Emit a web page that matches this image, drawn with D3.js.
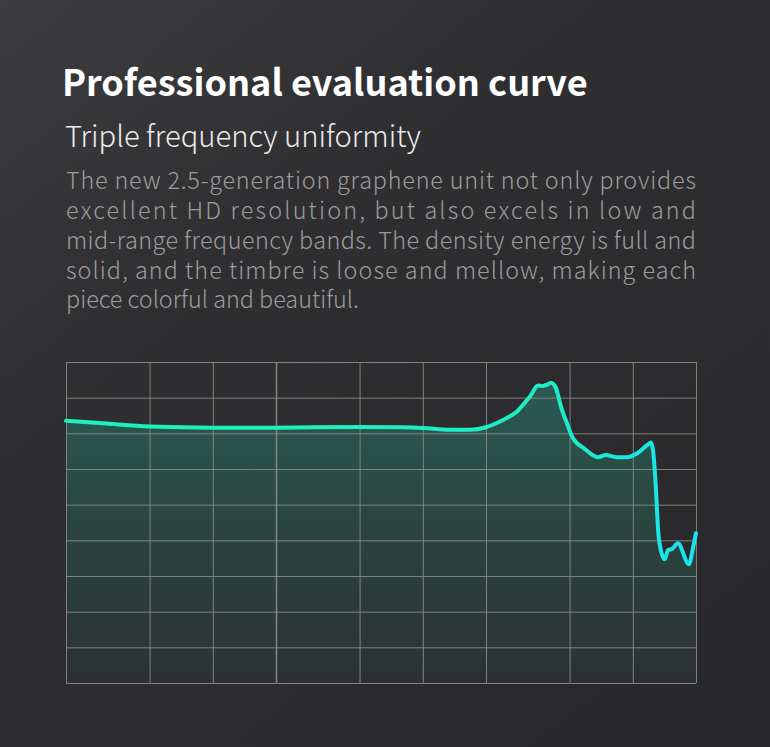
<!DOCTYPE html>
<html>
<head>
<meta charset="utf-8">
<script src="https://cdn.jsdelivr.net/npm/d3@7"></script>
<style>
  body { margin: 0; background: #2b2b2d; }
  svg { display: block; }
</style>
</head>
<body>
<svg id="chart" width="770" height="747"></svg>
<script>
// frequency response (Hz, dB)
const freqs = [20, 30, 50, 100, 200, 500, 780, 1000, 1350, 1680, 2000, 2330, 2600, 2810, 3020, 3240, 3540, 3740, 3900, 4080, 4310, 4550, 4860, 5190, 5860, 6820, 7450, 8400, 9380, 10500, 11700, 12200, 12480, 12900, 13200, 13600, 14200, 14720, 15400, 16400, 18500, 19400, 20000];
const spl = [103.5, 102.8, 101.9, 101.6, 101.6, 101.8, 101.7, 101.5, 101.0, 101.0, 101.7, 103.3, 104.8, 106.1, 108.2, 110.3, 113.4, 113.3, 113.6, 114.2, 112.6, 107.5, 102.8, 98.6, 95.8, 93.3, 93.9, 93.3, 93.3, 94.4, 96.7, 97.4, 95.3, 84.1, 72.9, 67.3, 64.7, 67.3, 67.6, 69.2, 63.3, 68.2, 72.0];

const gridFreqs = [20, 50, 100, 200, 500, 1000, 2000, 5000, 10000, 20000];
const gridLevels = d3.range(30, 121, 10);

const titleText = 'Professional evaluation curve';
const subtitleText = 'Triple frequency uniformity';
const bodyLines = [
  'The new 2.5-generation graphene unit not only provides',
  'excellent HD resolution, but also excels in low and',
  'mid-range frequency bands. The density energy is full and',
  'solid, and the timbre is loose and mellow, making each',
  'piece colorful and beautiful.'
];

const W = 770, H = 747;
const font = "'Noto Sans CJK SC', 'Source Han Sans SC', 'Noto Sans', sans-serif";
const plot = { left: 66, top: 362, right: 696, bottom: 683 };

const svg = d3.select('#chart');
const defs = svg.append('defs');

// background
const bg = defs.append('linearGradient').attr('id', 'bg')
  .attr('x1', 0).attr('y1', 0).attr('x2', 0.8).attr('y2', 1);
bg.append('stop').attr('offset', 0).attr('stop-color', '#3d3d3f');
bg.append('stop').attr('offset', 0.35).attr('stop-color', '#2f2f31');
bg.append('stop').attr('offset', 1).attr('stop-color', '#29292b');
svg.append('rect').attr('width', W).attr('height', H).attr('fill', 'url(#bg)');

// texts
function fitWidth(sel, target) {
  const w = sel.node().getComputedTextLength();
  sel.attr('font-size', parseFloat(sel.attr('font-size')) * target / w);
}

const title = svg.append('text')
  .attr('x', 62).attr('y', 96)
  .attr('font-family', font).attr('font-weight', 700).attr('font-size', 36)
  .attr('fill', '#ffffff')
  .text(titleText);
fitWidth(title, 526);

const subtitle = svg.append('text')
  .attr('x', 65).attr('y', 146.5)
  .attr('font-family', font).attr('font-weight', 300).attr('font-size', 28)
  .attr('fill', '#ebebeb')
  .text(subtitleText);
fitWidth(subtitle, 356);

const body = svg.append('g')
  .attr('font-family', font).attr('font-weight', 300)
  .attr('fill', '#9c9c9c');
const lines = body.selectAll('text')
  .data(bodyLines)
  .join('text')
  .attr('x', 66)
  .attr('y', (d, i) => 189 + i * 29.85)
  .attr('font-size', 22)
  .text(d => d);
// size from the last (unjustified) line, then justify the others
const last = lines.filter((d, i) => i === bodyLines.length - 1);
fitWidth(last, 293);
const bodySize = last.attr('font-size');
lines.attr('font-size', bodySize);
lines.filter((d, i) => i < bodyLines.length - 1)
  .attr('textLength', 630)
  .attr('lengthAdjust', 'spacing');

// chart
const x = d3.scaleLog().domain([20, 20000]).range([plot.left, plot.right]);
const y = d3.scaleLinear().domain([30, 120]).range([plot.bottom, plot.top]);
const data = freqs.map((f, i) => ({ f, v: spl[i] }));

const fillGrad = defs.append('linearGradient').attr('id', 'fill')
  .attr('gradientUnits', 'userSpaceOnUse')
  .attr('x1', 0).attr('y1', y(114)).attr('x2', 0).attr('y2', plot.bottom);
fillGrad.append('stop').attr('offset', 0).attr('stop-color', '#2b5a53');
fillGrad.append('stop').attr('offset', 0.45).attr('stop-color', '#29463f');
fillGrad.append('stop').attr('offset', 1).attr('stop-color', '#2c3133');

const lineGrad = defs.append('linearGradient').attr('id', 'stroke')
  .attr('gradientUnits', 'userSpaceOnUse')
  .attr('x1', plot.left).attr('y1', 0).attr('x2', plot.right).attr('y2', 0);
lineGrad.append('stop').attr('offset', 0).attr('stop-color', '#1ef0bd');
lineGrad.append('stop').attr('offset', 0.75).attr('stop-color', '#1eecc4');
lineGrad.append('stop').attr('offset', 1).attr('stop-color', '#1ae2ee');

const area = d3.area()
  .x(d => x(d.f))
  .y0(plot.bottom)
  .y1(d => y(d.v))
  .curve(d3.curveMonotoneX);

const line = d3.line()
  .x(d => x(d.f))
  .y(d => y(d.v))
  .curve(d3.curveMonotoneX);

svg.append('path')
  .datum(data)
  .attr('d', area)
  .attr('fill', 'url(#fill)');

// grid from axes
const gridX = svg.append('g')
  .attr('transform', `translate(0,${plot.bottom})`)
  .call(d3.axisBottom(x).tickValues(gridFreqs).tickSize(-(plot.bottom - plot.top)).tickFormat(''));
const gridY = svg.append('g')
  .attr('transform', `translate(${plot.left},0)`)
  .call(d3.axisLeft(y).tickValues(gridLevels).tickSize(-(plot.right - plot.left)).tickFormat(''));
[gridX, gridY].forEach(g => {
  g.select('.domain').remove();
  g.selectAll('.tick line')
    .attr('stroke', '#8a8a8a')
    .attr('stroke-opacity', 0.9)
    .attr('stroke-width', 1);
});
gridX.selectAll('.tick line')
  .filter(d => d === 200)
  .attr('stroke-width', 1.6);

svg.append('path')
  .datum(data)
  .attr('d', line)
  .attr('fill', 'none')
  .attr('stroke', 'url(#stroke)')
  .attr('stroke-width', 4)
  .attr('stroke-linejoin', 'round')
  .attr('stroke-linecap', 'round');
</script>
</body>
</html>
